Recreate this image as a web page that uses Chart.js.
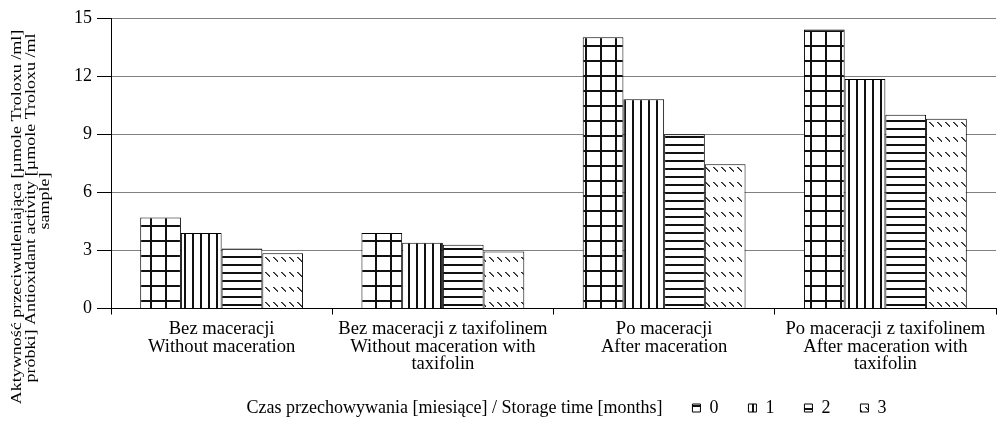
<!DOCTYPE html>
<html>
<head>
<meta charset="utf-8">
<script src="https://cdn.jsdelivr.net/npm/chart.js@4.4.1/dist/chart.umd.min.js"></script>
<style>
  html, body { margin: 0; padding: 0; background: #fff; }
  #wrap { width: 997px; height: 425px; }
</style>
</head>
<body>
<div id="wrap"><canvas id="antioxChart" width="997" height="425"></canvas></div>
<script>
const categories = [
    ['Bez maceracji', 'Without maceration'],
    ['Bez maceracji z taxifolinem', 'Without maceration with', 'taxifolin'],
    ['Po maceracji', 'After maceration'],
    ['Po maceracji z taxifolinem', 'After maceration with', 'taxifolin']
];
const storageMonths = ['0', '1', '2', '3'];
const month0 = [4.7, 3.9, 14.0, 14.4];
const month1 = [3.9, 3.4, 10.8, 11.85];
const month2 = [3.1, 3.3, 9.0, 10.0];
const month3 = [2.85, 2.95, 7.45, 9.8];
const yTicks = [0, 3, 6, 9, 12, 15];
const yTitle = [
    'Aktywność przeciwutleniająca [µmole Troloxu /ml]',
    'próbki] Antioxidant activity [µmole Troloxu /ml',
    'sample]'
];
const legendTitle = 'Czas przechowywania [miesiące] / Storage time [months]';

const serif = 'Liberation Serif, Times New Roman, serif';
const ctx = document.getElementById('antioxChart').getContext('2d');

// hatch fills, one per storage month
function makePattern(w, h, draw) {
    const c = document.createElement('canvas');
    c.width = w;
    c.height = h;
    const g = c.getContext('2d');
    g.fillStyle = '#fff';
    g.fillRect(0, 0, w, h);
    draw(g);
    return ctx.createPattern(c, 'repeat');
}
const gridFill = makePattern(15, 15, g => {
    g.fillStyle = '#111';
    g.fillRect(0, 0, 15, 2);
    g.fillRect(0, 0, 2, 15);
});
const vertFill = makePattern(8, 8, g => {
    g.fillStyle = '#111';
    g.fillRect(0, 0, 2, 8);
});
const horizFill = makePattern(8, 8, g => {
    g.fillStyle = '#111';
    g.fillRect(0, 0, 8, 2);
});
const dashFill = makePattern(8, 15, g => {
    g.fillStyle = '#222';
    for (let k = 0; k < 5; k++) {
        g.fillRect(1 + k, 2 + k, 1, 1);
    }
    g.fillStyle = '#666';
    for (let k = 0; k < 4; k++) {
        g.fillRect(2 + k, 2 + k, 1, 1);
    }
});
const seriesValues = [month0, month1, month2, month3];
const fills = [gridFill, vertFill, horizFill, dashFill];

// move the legend row to where it sits in the original
const legendShift = {
    id: 'legendShift',
    afterLayout(chart) {
        chart.legend.left += 60;
        chart.legend.right += 60;
        chart.legend.top -= 10;
        chart.legend.bottom -= 10;
    }
};

// y title lines, each centred a bit lower than the plot middle as in the original
// (the original text is squeezed across its lines, hence the x scale)
const titleCentres = [217, 208, 201];
const titleLineX = [17.5, 31.5, 45.5];
const yTitlePlugin = {
    id: 'yTitle',
    afterDraw(chart) {
        const c = chart.ctx;
        const sx = 0.8;
        c.save();
        c.fillStyle = '#000';
        c.font = '18px ' + serif;
        c.textAlign = 'center';
        c.textBaseline = 'middle';
        c.scale(sx, 1);
        c.rotate(-Math.PI / 2);
        yTitle.forEach((line, i) => c.fillText(line, -titleCentres[i], titleLineX[i] / sx));
        c.restore();
    }
};

new Chart(ctx, {
    type: 'bar',
    data: {
        labels: categories,
        datasets: storageMonths.map((m, i) => ({
            label: m,
            data: seriesValues[i],
            backgroundColor: fills[i],
            borderColor: '#000',
            borderWidth: 1
        }))
    },
    options: {
        responsive: false,
        animation: false,
        layout: { padding: { top: 18, right: 1, left: 0, bottom: -12 } },
        datasets: { bar: { categoryPercentage: 0.736, barPercentage: 1 } },
        scales: {
            x: {
                grid: { drawOnChartArea: false, tickLength: 6, color: '#000', offset: true },
                border: { color: '#000', width: 1 },
                ticks: {
                    color: '#000',
                    font: { family: serif, size: 18.6, lineHeight: 0.94 },
                    maxRotation: 0,
                    autoSkip: false,
                    padding: 6
                }
            },
            y: {
                min: 0,
                max: 15,
                afterBuildTicks: s => { s.ticks = yTicks.map(v => ({ value: v })); },
                grid: {
                    color: c => c.tick && c.tick.value === 0 ? '#000' : '#808080',
                    tickColor: '#000',
                    tickLength: 14
                },
                border: { color: '#000', width: 1 },
                ticks: { color: '#000', font: { family: serif, size: 18 }, padding: 5 },
                afterFit: s => { s.width = 111; }
            }
        },
        plugins: {
            legend: {
                position: 'bottom',
                onClick: null,
                labels: {
                    color: '#000',
                    font: { family: serif, size: 18 },
                    boxWidth: 8,
                    boxHeight: 8,
                    padding: 30,
                    generateLabels: chart => {
                        const items = Chart.defaults.plugins.legend.labels.generateLabels(chart);
                        items.forEach(it => { it.strokeStyle = '#000'; it.lineWidth = 1; });
                        return [{
                            text: legendTitle,
                            fillStyle: 'rgba(0,0,0,0)',
                            strokeStyle: 'rgba(0,0,0,0)',
                            lineWidth: 0,
                            hidden: false,
                            datasetIndex: -1
                        }].concat(items);
                    }
                }
            },
            tooltip: { enabled: false }
        }
    },
    plugins: [legendShift, yTitlePlugin]
});
</script>
</body>
</html>
